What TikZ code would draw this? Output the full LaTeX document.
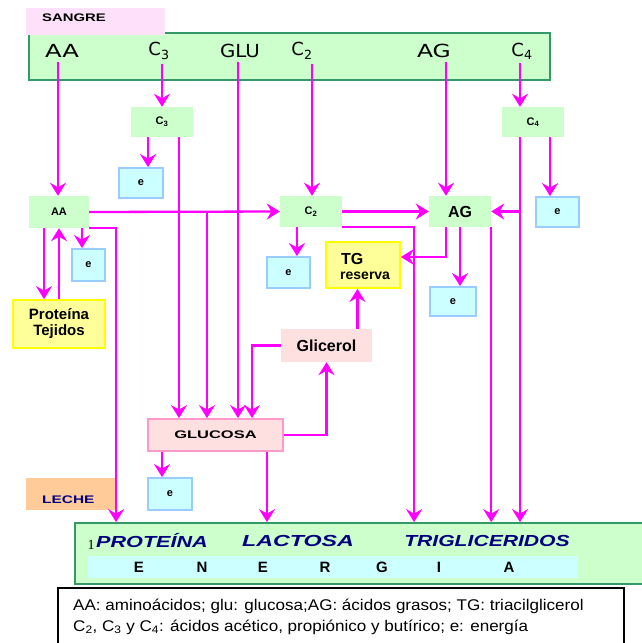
\documentclass[tikz,border=0pt]{standalone}
\usepackage{fontspec}
\usepackage{graphicx}
\setmainfont{Liberation Sans}
\newfontfamily\dejavu{DejaVu Sans}
\newfontfamily\serifone{Liberation Serif}
\usetikzlibrary{arrows.meta,calc}
\definecolor{mag}{HTML}{FF00FF}
\definecolor{lgreen}{HTML}{CCFFCC}
\definecolor{dgreen}{HTML}{339966}
\definecolor{lcyan}{HTML}{CCFFFF}
\definecolor{eblue}{HTML}{99CCFF}
\definecolor{lyellow}{HTML}{FFFF99}
\definecolor{yborder}{HTML}{FFFF00}
\definecolor{lpink}{HTML}{FFE0E0}
\definecolor{pborder}{HTML}{FF99CC}
\definecolor{spink}{HTML}{FFE0FA}
\definecolor{peach}{HTML}{FFCC99}
\definecolor{navy}{HTML}{000080}
\tikzset{
  arr/.style={draw=mag, line width=2.3pt, -{Stealth[width=16pt,length=13pt,inset=4.5pt]}},
  gbox/.style={fill=lgreen, inner sep=0pt},
  ebox/.style={fill=lcyan, draw=eblue, line width=1.8pt, inner sep=0pt, font=\bfseries\fontsize{11}{12}\selectfont},
  ybox/.style={fill=lyellow, draw=yborder, line width=1.8pt, inner sep=0pt, font=\bfseries\fontsize{15}{15}\selectfont},
  pbox/.style={fill=lpink, inner sep=0pt},
  toplab/.style={font=\dejavu\fontsize{18}{20}\selectfont, inner sep=0pt},
  smlab/.style={font=\bfseries\fontsize{11}{13}\selectfont},
  botlab/.style={font=\bfseries\itshape\fontsize{16}{18}\selectfont, text=navy, inner sep=0pt},
  enlab/.style={font=\bfseries\fontsize{15}{17}\selectfont, inner sep=0pt},
  leg/.style={font=\fontsize{15.5}{17}\selectfont, anchor=west, inner sep=0pt}
}
\begin{document}
\begin{tikzpicture}[x=1pt,y=-1pt]
\useasboundingbox (0,0) rectangle (641,643);

% ---- SANGRE block
\node[fill=lgreen, draw=dgreen, line width=1.8pt, minimum width=521pt, minimum height=47pt, inner sep=0pt] (top) at (289.5,56.5) {};
\node[fill=spink, minimum width=139pt, minimum height=27pt, inner sep=0pt] (sbox) at (95.5,21.5) {};
\node[font=\bfseries\fontsize{11}{12}\selectfont, anchor=west, inner sep=0pt] (stxt) at (42,18) {\scalebox{1.35}[1]{SANGRE}};

\node[toplab] (tAA) at (62,51) {\scalebox{1.35}[1]{AA}};
\node[toplab] (tC3) at (159,51) {C\textsubscript{3}};
\node[toplab] (tGLU) at (240,51) {\scalebox{1.1}[1]{GLU}};
\node[toplab] (tC2) at (302,51) {C\textsubscript{2}};
\node[toplab] (tAG) at (434,51) {\scalebox{1.3}[1]{AG}};
\node[toplab] (tC4) at (522,51) {C\textsubscript{4}};

% ---- intermediate boxes
\node[gbox, minimum width=62pt, minimum height=30pt, smlab] (C3) at (162,122) {C\textsubscript{3}};
\node[gbox, minimum width=62pt, minimum height=30pt, smlab] (C4) at (533,122) {C\textsubscript{4}};
\node[ebox, minimum width=44pt, minimum height=30pt] (e1) at (141,183) {e};
\node[gbox, minimum width=60pt, minimum height=32pt, smlab] (AA) at (59,212) {AA};
\node[gbox, minimum width=62pt, minimum height=31pt, smlab] (C2) at (311,211.5) {C\textsubscript{2}};
\node[gbox, minimum width=62pt, minimum height=31pt, font=\bfseries\fontsize{16}{18}\selectfont] (AG) at (460,211.5) {AG};
\node[ebox, minimum width=43pt, minimum height=30pt] (eR) at (557.5,212) {e};
\node[ebox, minimum width=33pt, minimum height=32pt] (eAA) at (88.5,265) {e};
\node[ebox, minimum width=43pt, minimum height=31pt] (eC2) at (288.5,272.5) {e};
\node[ybox, minimum width=74pt, minimum height=46pt] (TG) at (363,265) {};
\node[font=\bfseries\fontsize{16}{16}\selectfont, anchor=west, inner sep=0pt] (TGa) at (341,259) {TG};
\node[font=\bfseries\fontsize{14}{14}\selectfont, anchor=west, inner sep=0pt] (TGb) at (340,276) {reserva};
\node[ebox, minimum width=46pt, minimum height=29pt] (eAG) at (453,301.5) {e};
\node[ybox, minimum width=92pt, minimum height=48pt, align=center] (Prot) at (59,324) {Proteína\\[1pt]Tejidos};
\node[pbox, minimum width=91pt, minimum height=33pt, font=\bfseries\fontsize{16}{18}\selectfont] (Glic) at (326.5,345.5) {Glicerol};
\node[fill=lpink, draw=pborder, line width=1.8pt, inner sep=0pt, minimum width=135pt, minimum height=32pt, font=\bfseries\fontsize{11}{13}\selectfont] (GLUC) at (215.5,435) {\scalebox{1.5}[1]{GLUCOSA}};
\node[ebox, minimum width=44pt, minimum height=32pt] (eG) at (170,494) {e};

% ---- LECHE block
\node[fill=peach, minimum width=90pt, minimum height=32pt, inner sep=0pt] (lbox) at (71,494) {};
\node[font=\bfseries\fontsize{11}{12}\selectfont, text=navy, anchor=west, inner sep=0pt] (ltxt) at (42,500) {\scalebox{1.4}[1]{LECHE}};
\node[fill=lgreen, draw=dgreen, line width=1.8pt, minimum width=570pt, minimum height=61pt, inner sep=0pt] (bot) at (360,553.5) {};
\node[fill=lcyan, minimum width=490pt, minimum height=22pt, inner sep=0pt] (en) at (333,567) {};
\node[font=\serifone\fontsize{14}{16}\selectfont, inner sep=0pt] (one) at (91,545) {1};
\node[botlab] (bP) at (152,541) {\scalebox{1.35}[1]{PROTEÍNA}};
\node[botlab] (bL) at (298,541) {\scalebox{1.45}[1]{LACTOSA}};
\node[botlab] (bT) at (487,541) {\scalebox{1.32}[1]{TRIGLICERIDOS}};
\node[enlab] (n1) at (139,567) {E};
\node[enlab] (n2) at (202,567) {N};
\node[enlab] (n3) at (263,567) {E};
\node[enlab] (n4) at (325,567) {R};
\node[enlab] (n5) at (382,567) {G};
\node[enlab] (n6) at (439,567) {I};
\node[enlab] (n7) at (509,567) {A};

% ---- legend
\node[draw=black, line width=1.5pt, minimum width=566pt, minimum height=70pt, inner sep=0pt] (legbox) at (341,623) {};
\node[leg] (leg1) at (73,606) {\scalebox{1.1}[1]{AA: aminoácidos; glu: glucosa;AG: ácidos grasos; TG: triacilglicerol}};
\node[leg] (leg2) at (73,627) {\scalebox{1.1}[1]{C\textsubscript{2}, C\textsubscript{3} y C\textsubscript{4}: ácidos acético, propiónico y butírico; e: energía}};

% ---- connectors from SANGRE
\draw[arr] ($(tAA.south)+(-4,4)$) coordinate (a1) -- (a1 |- AA.north);
\draw[arr] ($(tC3.south)+(3,4)$) coordinate (a2) -- (a2 |- C3.north);
\draw[arr] ($(tGLU.south)+(-2,4)$) coordinate (a3) -- (a3 |- GLUC.north);
\draw[arr] ($(tC2.south)+(10,4)$) coordinate (a4) -- (a4 |- C2.north);
\draw[arr] ($(tAG.south)+(12,4)$) coordinate (a5) -- (a5 |- AG.north);
\draw[arr] ($(tC4.south)+(-2,4)$) coordinate (a6) -- (a6 |- C4.north);

% ---- C3
\draw[arr] ($(C3.south)+(-14,0)$) coordinate (b1) -- (b1 |- e1.north);
\draw[arr] ($(C3.south)+(17,0)$) coordinate (b2) -- (b2 |- GLUC.north);

% ---- C4
\draw[arr] ($(C4.south)+(17,0)$) coordinate (c1) -- (c1 |- eR.north);
\draw[arr] ($(C4.south)+(-13,0)$) coordinate (c2) -- (c2 |- bot.north);
\draw[arr] (c2 |- AG.east) -- (AG.east);

% ---- AA
\draw[arr] (AA.east) -- (C2.west);
\coordinate (d1) at ($(GLUC.north)+(-8.5,0)$);
\draw[arr] (d1 |- AA.east) -- (d1);
\draw[arr] ($(AA.south)+(23,0)$) coordinate (d2) -- (d2 |- eAA.north);
\draw[arr] ($(AA.south)+(-15,0)$) coordinate (d3) -- (d3 |- Prot.north);
\draw[arr] (Prot.north) -- (Prot.north |- AA.south);
\draw[arr] (AA.south east) -| ($(bot.north west)+(42,0)$);

% ---- C2
\draw[arr] (C2.east) -- (AG.west);
\draw[arr] ($(C2.south)+(-14,0)$) coordinate (f1) -- (f1 |- eC2.north);
\draw[arr] (C2.south east) -| ($(bot.north west)+(340,0)$);

% ---- AG
\draw[arr] ($(AG.south)+(-14,0)$) |- ($(TG.east)+(0,-8)$);
\draw[arr] (AG.south) -- (AG.south |- eAG.north);
\draw[arr] (AG.south east) -- (AG.south east |- bot.north);

% ---- Glicerol / Glucosa
\draw[arr] ($(Glic.north)+(31,0)$) coordinate (g1) -- (g1 |- TG.south);
\draw[arr] (Glic.west) -| ($(GLUC.north)+(36.5,0)$);
\draw[arr] (GLUC.east) -| (Glic.south);
\draw[arr] ($(GLUC.south)+(-53.5,0)$) coordinate (h1) -- (h1 |- eG.north);
\draw[arr] ($(GLUC.south)+(51.5,0)$) coordinate (h2) -- (h2 |- bot.north);
\end{tikzpicture}
\end{document}
